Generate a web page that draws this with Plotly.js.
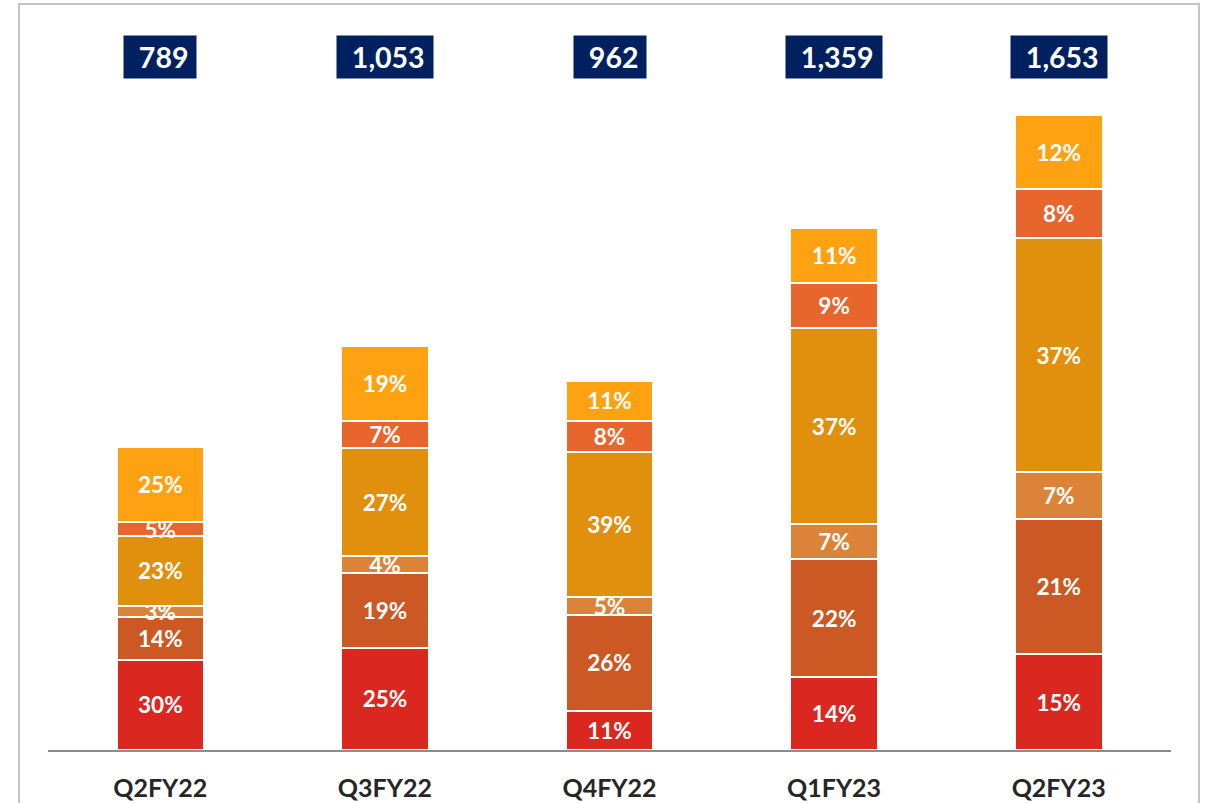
<!DOCTYPE html>
<html>
<head>
<meta charset="utf-8">
<script src="https://cdn.plot.ly/plotly-3.0.1.min.js"></script>
<style>
html,body{margin:0;padding:0;background:#fff;}
#chart{width:1208px;height:803px;}
</style>
</head>
<body>
<div id="chart"></div>
<script>
// ---- data ----
const quarters = ["Q2FY22", "Q3FY22", "Q4FY22", "Q1FY23", "Q2FY23"];
const totals = [789, 1053, 962, 1359, 1653];
const totalLabels = ["789", "1,053", "962", "1,359", "1,653"];
// printed percentage labels, bottom to top
const seg1Label = [30, 25, 11, 14, 15];
const seg2Label = [14, 19, 26, 22, 21];
const seg3Label = [3, 4, 5, 7, 7];
const seg4Label = [23, 27, 39, 37, 37];
const seg5Label = [5, 7, 8, 9, 8];
const seg6Label = [25, 19, 11, 11, 12];
// shares (percent), bottom to top
const seg1Share = [29.7, 25.3, 10.6, 14.0, 15.1];
const seg2Share = [14.3, 18.6, 26.0, 22.6, 21.4];
const seg3Share = [3.5, 4.0, 4.7, 6.7, 7.3];
const seg4Share = [23.1, 26.7, 39.4, 37.5, 37.0];
const seg5Share = [4.5, 6.7, 8.5, 8.8, 7.7];
const seg6Share = [24.8, 18.7, 10.8, 10.4, 11.6];
const segmentNames = ["Segment 1", "Segment 2", "Segment 3", "Segment 4", "Segment 5", "Segment 6"];

// ---- styling ----
const segColors = ["#DA2821", "#CC5824", "#DB8339", "#E0900D", "#E9652E", "#FFA211"];
const FONT = "Lato, 'Open Sans', sans-serif";

const labels = [seg1Label, seg2Label, seg3Label, seg4Label, seg5Label, seg6Label];
const shares = [seg1Share, seg2Share, seg3Share, seg4Share, seg5Share, seg6Share];
const shareSum = quarters.map((q, j) => shares.reduce((a, s) => a + s[j], 0));

const traces = shares.map((sh, i) => ({
  type: "bar",
  name: segmentNames[i],
  x: quarters,
  y: sh.map((p, j) => totals[j] * p / shareSum[j]),
  text: labels[i].map(p => p + "%"),
  textposition: "inside",
  insidetextanchor: "middle",
  constraintext: "none",
  textangle: 0,
  textfont: {family: FONT, size: 22.5, color: "#FFFFFF", weight: 700},
  marker: {color: segColors[i], line: {color: "#FFFFFF", width: 2}},
  width: 0.39,
  hoverinfo: "x+y+name"
}));

const annotations = quarters.map((q, j) => ({
  x: q, xref: "x",
  y: 1.003, yref: "paper", yanchor: "middle",
  text: "&nbsp;&nbsp;" + totalLabels[j] + "&nbsp;",
  showarrow: false,
  bgcolor: "#002060",
  height: 40,
  borderpad: 1,
  font: {family: FONT, size: 28.5, color: "#FFFFFF", weight: 700}
}));

const layout = {
  width: 1208, height: 803,
  margin: {l: 48, r: 37, t: 59, b: 53},
  paper_bgcolor: "#FFFFFF",
  plot_bgcolor: "#FFFFFF",
  barmode: "stack",
  showlegend: false,
  xaxis: {
    range: [-0.5, 4.5],
    showline: true, linecolor: "#8C8C8C", linewidth: 2,
    ticks: "", showgrid: false, zeroline: false,
    tickfont: {family: FONT, size: 25, color: "#262626", weight: 700},
    ticklabelstandoff: 15
  },
  yaxis: {
    range: [0, 1800], visible: false, showgrid: false, zeroline: false
  },
  annotations: annotations,
  shapes: [{
    type: "rect", xref: "paper", yref: "paper",
    x0: -0.0258, x1: 1.0249, y0: -0.2, y1: 1.0796,
    line: {color: "#C4C4C4", width: 2}, fillcolor: "rgba(0,0,0,0)", layer: "below"
  }]
};

Plotly.newPlot("chart", traces, layout, {displayModeBar: false, staticPlot: true});
</script>
</body>
</html>
